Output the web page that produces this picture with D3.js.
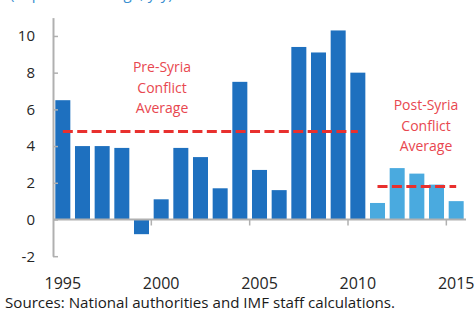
<!DOCTYPE html>
<html>
<head>
<meta charset="utf-8">
<script src="https://cdn.jsdelivr.net/npm/d3@7"></script>
<style>
  body { margin: 0; background: #fff; }
  text { font-family: "Open Sans", "Noto Sans", sans-serif; }
</style>
</head>
<body>
<script>
"use strict"

// data
const years  = d3.range(1995, 2016)
const growth = [6.5, 4.0, 4.0, 3.9, -0.8, 1.1, 3.9, 3.4, 1.7, 7.5, 2.7, 1.6, 9.4, 9.1, 10.3, 8.0, 0.9, 2.8, 2.5, 1.9, 1.0]
const yTicks = [-2, 0, 2, 4, 6, 8, 10]
const xLabels = [1995, 2000, 2005, 2010, 2015]
const xBreaks = [2000, 2005, 2010, 2015]
const averages = [
  { from : 1995, to : 2010, value : 4.8, label : ["Pre-Syria", "Conflict", "Average"] },
  { from : 2011, to : 2015, value : 1.8, label : ["Post-Syria", "Conflict", "Average"] },
]
const conflictStart = 2011

const W = 475, H = 310

const x = d3.scaleBand().domain(years).range([53, 466]).paddingInner(0.237).paddingOuter(0.118)
const y = d3.scaleLinear().domain([-2, 11]).range([256.2, 17.6])
const mid = yr => x(yr) + x.bandwidth() / 2
const gap = x.step() - x.bandwidth()

const svg = d3.select("body").append("svg")
  .attr("width", W)
  .attr("height", H)

// title, cut off by the frame in the reference (only descenders show)
svg.append("text")
  .attr("x", 10).attr("y", -1)
  .attr("fill", "#3a8fd0")
  .attr("font-size", 15)
  .text("(In percent change, y/y)")

// bars
svg.append("g").selectAll("rect")
  .data(years.map((yr, i) => ({ yr, v : growth[i] })))
  .join("rect")
  .attr("x", d => x(d.yr))
  .attr("width", x.bandwidth())
  .attr("y", d => y(Math.max(0, d.v)))
  .attr("height", d => Math.abs(y(d.v) - y(0)))
  .attr("fill", d => d.yr >= conflictStart ? "#4aaadf" : "#1e70bf")

// y axis, ticks pointing inward
const yAxis = svg.append("g")
  .attr("transform", "translate(53,0)")
  .call(d3.axisLeft(y).tickValues(yTicks).tickFormat(d => String(d))
    .tickSizeInner(-5).tickSizeOuter(0).tickPadding(18))
yAxis.select(".domain").attr("stroke", "#b0b0b0").attr("stroke-width", 2)
yAxis.selectAll(".tick line").attr("stroke", "#b0b0b0").attr("stroke-width", 1.5)
yAxis.selectAll(".tick text")
  .attr("font-size", 15)
  .attr("fill", "#262626")
  .attr("font-family", "'Open Sans', sans-serif")

// x baseline at zero with ticks between categories
const base = svg.append("g").attr("stroke", "#b0b0b0")
base.append("line")
  .attr("x1", x.range()[0]).attr("x2", x.range()[1])
  .attr("y1", y(0)).attr("y2", y(0))
  .attr("stroke-width", 2)
base.selectAll(".brk")
  .data(xBreaks)
  .join("line")
  .attr("class", "brk")
  .attr("x1", d => x(d) - gap / 2).attr("x2", d => x(d) - gap / 2)
  .attr("y1", y(0)).attr("y2", y(0) + 6)
  .attr("stroke-width", 1.5)

// x labels at the bottom
svg.append("g").selectAll("text")
  .data(xLabels)
  .join("text")
  .attr("x", d => mid(d))
  .attr("y", 288.5)
  .attr("text-anchor", "middle")
  .attr("font-size", 16)
  .attr("fill", "#262626")
  .text(d => d)

// average lines
svg.append("g").selectAll("line")
  .data(averages)
  .join("line")
  .attr("x1", d => mid(d.from)).attr("x2", d => mid(d.to))
  .attr("y1", d => y(d.value)).attr("y2", d => y(d.value))
  .attr("stroke", "#e8302e")
  .attr("stroke-width", 3)
  .attr("stroke-dasharray", "10 4.4")

// average labels
const labelPos = [{ x : 162, y : 72 }, { x : 426, y : 110 }]
averages.forEach((d, i) => {
  const t = svg.append("text")
    .attr("x", labelPos[i].x)
    .attr("y", labelPos[i].y)
    .attr("text-anchor", "middle")
    .attr("font-size", 14)
    .attr("fill", "#e8474f")
  d.label.forEach((s, j) => {
    t.append("tspan").attr("x", labelPos[i].x).attr("dy", j ? 20.5 : 0).text(s)
  })
})

// source note
svg.append("text")
  .attr("x", 5).attr("y", 307.5)
  .attr("font-size", 14)
  .attr("textLength", 390)
  .attr("lengthAdjust", "spacingAndGlyphs")
  .attr("fill", "#1a1a1a")
  .text("Sources: National authorities and IMF staff calculations.")
</script>
</body>
</html>
